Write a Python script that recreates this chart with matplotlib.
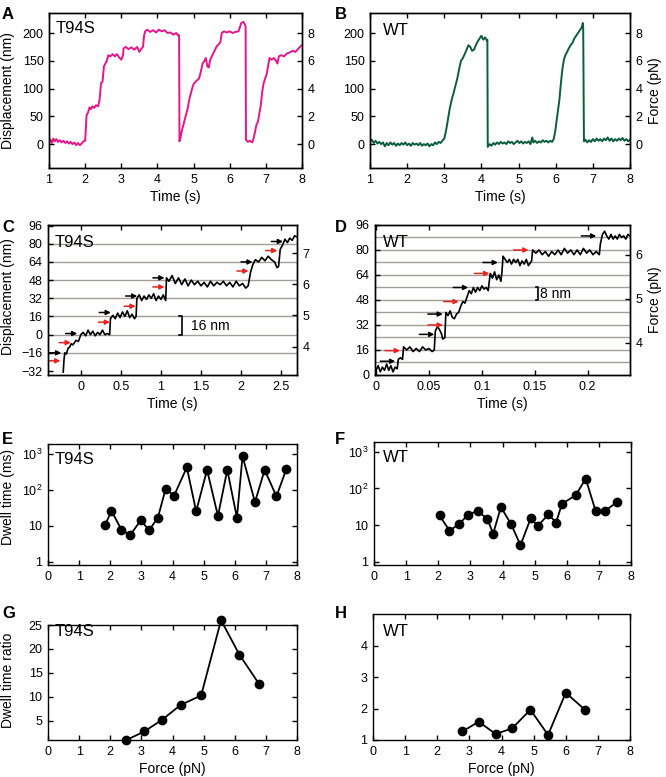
import matplotlib
matplotlib.use("Agg")
import matplotlib.pyplot as plt
from matplotlib.ticker import NullLocator

plt.rcParams['font.family'] = ['Liberation Sans', 'DejaVu Sans']
plt.rcParams['mathtext.default'] = 'regular'
plt.rcParams['axes.linewidth'] = 1.0

PINK = '#e5168b'
GREEN = '#0b5d3b'
GRID = '#a69d97'

# ---- panel A: T94S trace (time s, displacement nm)
trace_a_t = [1.00, 1.04, 1.08, 1.12, 1.16, 1.20, 1.25, 1.30, 1.35, 1.40, 1.45, 1.50, 1.55, 1.60,
             1.65, 1.70, 1.75, 1.80, 1.85, 1.90, 1.95, 2.00, 2.02, 2.04, 2.08, 2.12, 2.16, 2.20,
             2.25, 2.30, 2.36, 2.40, 2.44, 2.48, 2.52, 2.56, 2.60, 2.64, 2.70, 2.76, 2.82, 2.88,
             2.94, 3.00, 3.05, 3.06, 3.12, 3.20, 3.28, 3.36, 3.44, 3.50, 3.56, 3.60, 3.63, 3.66,
             3.72, 3.80, 3.88, 3.96, 4.04, 4.12, 4.20, 4.28, 4.36, 4.44, 4.52, 4.58, 4.60, 4.61,
             4.64, 4.68, 4.72, 4.76, 4.80, 4.84, 4.88, 4.92, 4.96, 5.00, 5.05, 5.10, 5.15, 5.20,
             5.25, 5.30, 5.34, 5.38, 5.42, 5.46, 5.52, 5.58, 5.64, 5.70, 5.74, 5.78, 5.84, 5.92,
             6.00, 6.08, 6.16, 6.24, 6.28, 6.32, 6.38, 6.42, 6.44, 6.45, 6.50, 6.56, 6.62, 6.66,
             6.70, 6.74, 6.78, 6.82, 6.86, 6.90, 6.94, 6.98, 7.02, 7.06, 7.10, 7.16, 7.22, 7.28,
             7.32, 7.36, 7.42, 7.50, 7.58, 7.66, 7.74, 7.82, 7.90, 7.96, 8.00]
trace_a_nm = [3, 8, 2, 10, 5, 9, 4, 7, 3, 6, 2, 5, 1, 4,
              0, 3, -2, 2, -2, 1, 5, 6, 30, 52, 57, 66, 63, 68,
              65, 70, 68, 80, 110, 112, 140, 145, 150, 160, 158, 162, 158, 162,
              156, 152, 160, 172, 175, 171, 174, 170, 175, 166, 172, 175, 195, 203,
              206, 202, 205, 201, 206, 203, 205, 200, 201, 197, 200, 195, 196, 5,
              12, 25, 35, 45, 55, 65, 80, 90, 100, 108, 112, 115, 118, 130,
              145, 150, 155, 140, 138, 152, 160, 168, 176, 180, 183, 200, 203, 201,
              203, 200, 202, 203, 210, 218, 220, 215, 212, 8, 4, 6, 3, 10,
              22, 35, 40, 55, 70, 95, 110, 118, 125, 140, 155, 152, 155, 150,
              145, 158, 160, 158, 163, 165, 168, 166, 172, 176, 178]

# ---- panel B: WT trace
trace_b_t = [1.00, 1.05, 1.10, 1.15, 1.20, 1.25, 1.30, 1.35, 1.40, 1.45, 1.50, 1.55, 1.60, 1.65,
             1.70, 1.75, 1.80, 1.85, 1.90, 1.95, 2.00, 2.05, 2.10, 2.15, 2.20, 2.25, 2.30, 2.35,
             2.40, 2.45, 2.50, 2.55, 2.60, 2.65, 2.70, 2.75, 2.80, 2.85, 2.90, 2.95, 3.00, 3.05,
             3.10, 3.15, 3.20, 3.25, 3.30, 3.35, 3.40, 3.45, 3.50, 3.55, 3.60, 3.65, 3.70, 3.75,
             3.80, 3.85, 3.90, 3.95, 4.00, 4.05, 4.10, 4.15, 4.16, 4.17, 4.22, 4.27, 4.32, 4.37,
             4.42, 4.47, 4.52, 4.57, 4.62, 4.67, 4.72, 4.77, 4.82, 4.87, 4.92, 4.97, 5.02, 5.07,
             5.12, 5.17, 5.22, 5.27, 5.32, 5.37, 5.40, 5.45, 5.50, 5.55, 5.60, 5.65, 5.70, 5.75,
             5.80, 5.85, 5.90, 5.94, 5.98, 6.02, 6.06, 6.10, 6.14, 6.18, 6.22, 6.26, 6.30, 6.35,
             6.40, 6.45, 6.50, 6.55, 6.60, 6.65, 6.70, 6.73, 6.74, 6.76, 6.80, 6.85, 6.90, 6.95,
             7.00, 7.05, 7.10, 7.15, 7.20, 7.25, 7.30, 7.35, 7.40, 7.45, 7.50, 7.55, 7.60, 7.65,
             7.70, 7.75, 7.80, 7.85, 7.90, 7.95, 8.00]
trace_b_nm = [5, 8, 2, 6, 1, 4, 0, 3, -4, 2, -2, 3, -1, 2,
              -3, 1, -2, 2, -1, 3, -2, 1, -3, 2, -1, 1, -2, 2,
              -3, 0, -2, 1, -4, 0, -2, 3, 0, 4, 2, 6, 10, 25,
              45, 65, 80, 92, 105, 118, 135, 150, 155, 162, 170, 178, 175, 168,
              170, 178, 185, 190, 195, 188, 192, 186, 188, -5, 0, -3, 2, -1,
              3, 0, 4, 1, 3, 0, 5, 2, 4, 0, 3, 6, 2, 5,
              1, 4, 2, 5, 0, 12, 3, 6, 2, 5, 3, 7, 4, 6,
              3, 6, 4, 8, 20, 40, 60, 80, 110, 135, 152, 160, 165, 172,
              178, 182, 190, 195, 200, 205, 210, 218, 210, 5, 8, 3, 7, 4,
              9, 5, 10, 6, 9, 5, 10, 7, 12, 6, 10, 5, 9, 6,
              10, 7, 11, 6, 9, 5, 8]

# ---- panel C: T94S stepping record
trace_c_t = [-0.22, -0.21, -0.20, -0.18, -0.16, -0.14, -0.12, -0.10, -0.06, -0.03, 0.00, 0.03,
             0.06, 0.09, 0.12, 0.15, 0.18, 0.21, 0.24, 0.27, 0.30, 0.33, 0.36, 0.37, 0.40, 0.43,
             0.46, 0.49, 0.52, 0.55, 0.58, 0.61, 0.64, 0.67, 0.69, 0.70, 0.73, 0.76, 0.79, 0.82,
             0.85, 0.88, 0.91, 0.94, 0.97, 1.00, 1.03, 1.06, 1.07, 1.10, 1.14, 1.18, 1.22, 1.26,
             1.30, 1.34, 1.38, 1.42, 1.46, 1.50, 1.54, 1.58, 1.62, 1.66, 1.70, 1.74, 1.78, 1.82,
             1.86, 1.90, 1.94, 1.98, 2.02, 2.06, 2.09, 2.12, 2.15, 2.18, 2.22, 2.26, 2.30, 2.34,
             2.38, 2.42, 2.45, 2.47, 2.49, 2.52, 2.55, 2.58, 2.61, 2.64, 2.67, 2.70]
trace_c_nm = [-33, -22, -16, -17, -12, -11, -8, -9, -5, -6, 0, 2,
              -1, 4, 0, 3, -1, 2, 0, 4, 0, 1, 0, 14, 17, 14,
              19, 15, 20, 16, 21, 15, 18, 14, 16, 32, 35, 30, 34, 31,
              35, 32, 36, 30, 34, 31, 35, 30, 50, 47, 52, 45, 50, 44,
              49, 43, 48, 44, 47, 43, 46, 42, 47, 43, 46, 44, 47, 43,
              46, 42, 47, 43, 45, 41, 43, 55, 62, 66, 64, 68, 65, 69,
              66, 64, 59, 60, 75, 79, 84, 81, 85, 83, 87, 86]
grid_c = [-16, 0, 16, 32, 48, 64, 80]
arrows_c_black = [(-0.39, -16), (-0.19, 1), (0.23, 19.5), (0.56, 34), (0.90, 50), (2.00, 64), (2.38, 82)]
arrows_c_red = [(-0.40, -23), (-0.27, -7), (0.22, 11), (0.54, 25), (0.90, 42), (1.95, 56), (2.31, 74)]

# ---- panel D: WT stepping record
trace_d_t = [0.000, 0.002, 0.004, 0.006, 0.008, 0.010, 0.012, 0.014, 0.016, 0.018, 0.020, 0.021,
             0.023, 0.025, 0.026, 0.029, 0.032, 0.035, 0.038, 0.041, 0.044, 0.047, 0.050, 0.053,
             0.055, 0.056, 0.058, 0.060, 0.062, 0.063, 0.065, 0.066, 0.068, 0.070, 0.072, 0.074,
             0.076, 0.078, 0.080, 0.082, 0.084, 0.086, 0.088, 0.090, 0.092, 0.094, 0.096, 0.098,
             0.100, 0.102, 0.104, 0.106, 0.107, 0.108, 0.110, 0.112, 0.114, 0.116, 0.118, 0.119,
             0.120, 0.122, 0.124, 0.126, 0.128, 0.130, 0.132, 0.134, 0.136, 0.138, 0.140, 0.142,
             0.144, 0.146, 0.147, 0.148, 0.151, 0.154, 0.157, 0.160, 0.163, 0.166, 0.169, 0.172,
             0.175, 0.178, 0.181, 0.184, 0.187, 0.190, 0.193, 0.196, 0.199, 0.202, 0.205, 0.208,
             0.211, 0.212, 0.214, 0.216, 0.218, 0.220, 0.222, 0.224, 0.226, 0.228, 0.230, 0.232,
             0.234, 0.236, 0.238, 0.240]
trace_d_nm = [3, 6, 2, 5, 3, 7, 3, 6, 2, 5, 4, 10,
              11, 10, 18, 16, 18, 15, 17, 15, 18, 16, 17, 15,
              16, 28, 31, 29, 26, 23, 24, 40, 38, 41, 37, 36,
              39, 40, 44, 47, 46, 50, 54, 52, 56, 53, 56, 54,
              57, 55, 56, 54, 60, 65, 62, 66, 61, 64, 60, 66,
              76, 74, 72, 74, 71, 74, 72, 74, 70, 73, 71, 74,
              70, 72, 73, 80, 78, 80, 77, 79, 76, 79, 77, 80,
              77, 81, 78, 80, 77, 80, 77, 81, 78, 80, 77, 79,
              77, 84, 90, 92, 89, 87, 90, 87, 89, 87, 90, 88,
              89, 87, 90, 89]
grid_d = [8, 16, 24, 32, 40, 48, 56, 64, 72, 80, 88]
arrows_d_black = [(0.004, 8.8), (0.041, 26), (0.049, 39), (0.073, 56), (0.101, 72), (0.194, 89)]
arrows_d_red = [(0.0085, 15.6), (0.049, 32), (0.064, 47), (0.093, 65), (0.130, 80)]

# ---- panels E, F: dwell time vs force
dwell_e_force = [1.84, 2.04, 2.36, 2.64, 2.98, 3.25, 3.53, 3.78, 4.05, 4.46,
                 4.76, 5.11, 5.46, 5.76, 6.07, 6.25, 6.65, 6.96, 7.34, 7.66]
dwell_e_ms = [10.7, 25.7, 7.7, 5.5, 14, 7.5, 16.7, 105, 68, 415,
              25, 354, 18.6, 354, 16.7, 850, 45, 354, 65, 377]
dwell_f_force = [2.04, 2.35, 2.66, 2.92, 3.23, 3.53, 3.71, 3.95, 4.27, 4.56,
                 4.88, 5.09, 5.43, 5.67, 5.85, 6.28, 6.59, 6.90, 7.18, 7.56]
dwell_f_ms = [18.3, 7.0, 10.8, 19, 24.5, 14.5, 5.8, 31, 10.5, 2.8,
              15.5, 9.3, 19.6, 11.7, 38, 65, 185, 24, 24, 42]

# ---- panels G, H: dwell time ratio vs force
ratio_g_force = [2.52, 3.10, 3.66, 4.26, 4.92, 5.56, 6.15, 6.78]
ratio_g = [1.0, 2.8, 5.2, 8.3, 10.3, 26.0, 18.8, 12.7]
ratio_h_force = [2.78, 3.29, 3.82, 4.33, 4.90, 5.45, 6.00, 6.61]
ratio_h = [1.27, 1.58, 1.19, 1.37, 1.96, 1.16, 2.50, 1.95]

W, H = 666, 777
fig = plt.figure(figsize=(W / 100, H / 100), dpi=100)


def panel(left, top, right, bottom):
    return fig.add_axes([left / W, 1 - bottom / H, (right - left) / W, (bottom - top) / H])


def style(ax, right=True):
    ax.tick_params(direction='in', length=3.5, width=1, top=True, right=right, labelsize=9, pad=4)


def tag(ax, text, x, y):
    ax.text(x, y, text, transform=ax.transAxes, fontsize=12, va='center', ha='left')


def letter(x, y, s):
    fig.text(x / W, 1 - y / H, s, fontsize=12, weight='bold', va='top', ha='left')


def arrow(ax, t, y, length, color):
    ax.annotate('', xy=(t + length, y), xytext=(t, y),
                arrowprops=dict(arrowstyle='-|>', color=color, lw=1.1, mutation_scale=7,
                                shrinkA=0, shrinkB=0))


# A
axA = panel(49, 13, 302, 168)
axA.plot(trace_a_t, trace_a_nm, color=PINK, lw=1.4)
axA.set_xlim(1, 8)
axA.set_ylim(-43, 236)
axA.set_xticks(range(1, 9))
axA.set_yticks([0, 50, 100, 150, 200])
style(axA, right=False)
axA.set_xlabel('Time (s)', fontsize=10, labelpad=3)
tag(axA, 'T94S', 0.025, 0.9)
tA = axA.twinx()
tA.set_ylim(-43 / 25, 236 / 25)
tA.set_yticks([0, 2, 4, 6, 8])
tA.tick_params(direction='in', length=3.5, width=1, labelsize=9, pad=4)

# B
axB = panel(370, 13, 630, 168)
axB.plot(trace_b_t, trace_b_nm, color=GREEN, lw=1.4)
axB.set_xlim(1, 8)
axB.set_ylim(-43, 236)
axB.set_xticks(range(1, 9))
axB.set_yticks([0, 50, 100, 150, 200])
style(axB, right=False)
axB.set_xlabel('Time (s)', fontsize=10, labelpad=3)
tag(axB, 'WT', 0.05, 0.89)
tB = axB.twinx()
tB.set_ylim(-43 / 25, 236 / 25)
tB.set_yticks([0, 2, 4, 6, 8])
tB.tick_params(direction='in', length=3.5, width=1, labelsize=9, pad=4)
tB.set_ylabel('Force (pN)', fontsize=10, labelpad=4)

# C
axC = panel(48, 225, 297, 375)
for g in grid_c:
    axC.axhline(g, color=GRID, lw=1.0, zorder=1)
axC.plot(trace_c_t, trace_c_nm, color='black', lw=1.2, zorder=3)
for t, y in arrows_c_black:
    arrow(axC, t, y, 0.145, 'black')
for t, y in arrows_c_red:
    arrow(axC, t, y, 0.145, '#e8231e')
axC.plot([1.225, 1.26, 1.26, 1.225], [0, 0, 16, 16], color='black', lw=1.2)
axC.text(1.38, 8, '16 nm', fontsize=10, va='center')
axC.set_xlim(-0.41, 2.7)
axC.set_ylim(-35.5, 96.5)
axC.set_xticks([0, 0.5, 1, 1.5, 2, 2.5])
axC.set_xticklabels(['0', '0.5', '1', '1.5', '2', '2.5'])
axC.set_yticks([-32, -16, 0, 16, 32, 48, 64, 80, 96])
style(axC, right=False)
axC.set_xlabel('Time (s)', fontsize=10, labelpad=3)
tag(axC, 'T94S', 0.028, 0.883)
tC = axC.twinx()
tC.set_ylim(3.087, 7.906)
tC.set_yticks([4, 5, 6, 7])
tC.tick_params(direction='in', length=3.5, width=1, labelsize=9, pad=4)

# D
axD = panel(375, 225, 630, 375)
for g in grid_d:
    axD.axhline(g, color=GRID, lw=1.0, zorder=1)
axD.plot(trace_d_t, trace_d_nm, color='black', lw=1.2, zorder=3)
for t, y in arrows_d_black:
    arrow(axD, t, y, 0.0141, 'black')
for t, y in arrows_d_red:
    arrow(axD, t, y, 0.0141, '#e8231e')
axD.plot([0.151, 0.1535, 0.1535, 0.151], [48, 48, 56, 56], color='black', lw=1.2)
axD.text(0.1545, 52, '8 nm', fontsize=10, va='center')
axD.set_xlim(-0.001, 0.24)
axD.set_ylim(0, 96)
axD.set_xticks([0, 0.05, 0.1, 0.15, 0.2])
axD.set_xticklabels(['0', '0.05', '0.1', '0.15', '0.2'])
axD.set_yticks([0, 16, 32, 48, 64, 80, 96])
style(axD, right=False)
axD.set_xlabel('Time (s)', fontsize=10, labelpad=3)
tag(axD, 'WT', 0.03, 0.883)
tD = axD.twinx()
tD.set_ylim(3.27, 6.68)
tD.set_yticks([4, 5, 6])
tD.tick_params(direction='in', length=3.5, width=1, labelsize=9, pad=4)
tD.set_ylabel('Force (pN)', fontsize=10, labelpad=4)

# E, F
for box, xs, ys, name, tx, ty in [((48, 444, 297, 565), dwell_e_force, dwell_e_ms, 'T94S', 0.028, 0.872),
                                  ((374, 442, 631, 565), dwell_f_force, dwell_f_ms, 'WT', 0.035, 0.874)]:
    ax = panel(*box)
    ax.plot(xs, ys, '-o', color='black', lw=1.3, ms=6, clip_on=False)
    ax.set_yscale('log')
    ax.set_xlim(0, 8)
    ax.set_ylim(0.81, 1850)
    ax.set_xticks(range(0, 9))
    ax.set_yticks([1, 10, 100, 1000])
    ax.set_yticklabels(['1', '10', '$10^2$', '$10^3$'])
    ax.yaxis.set_minor_locator(NullLocator())
    style(ax)
    tag(ax, name, tx, ty)
    if name == 'T94S':
        fig.text(8 / W, 1 - 497 / H, 'Dwell time (ms)', rotation=90, fontsize=10,
                 ha='center', va='center')

# G
axG = panel(48, 625, 297, 740)
axG.plot(ratio_g_force, ratio_g, '-o', color='black', lw=1.3, ms=6, clip_on=False)
axG.set_xlim(0, 8)
axG.set_ylim(1, 25)
axG.set_xticks(range(0, 9))
axG.set_yticks([5, 10, 15, 20, 25])
style(axG)
axG.set_xlabel('Force (pN)', fontsize=10, labelpad=3)
tag(axG, 'T94S', 0.028, 0.94)

# H
axH = panel(373, 614, 630, 740)
axH.plot(ratio_h_force, ratio_h, '-o', color='black', lw=1.3, ms=6, clip_on=False)
axH.set_xlim(0, 8)
axH.set_ylim(1, 5)
axH.set_xticks(range(0, 9))
axH.set_yticks([1, 2, 3, 4])
style(axH)
axH.set_xlabel('Force (pN)', fontsize=10, labelpad=3)
tag(axH, 'WT', 0.04, 0.865)

fig.text(8 / W, 1 - 91 / H, 'Displacement (nm)', rotation=90, fontsize=10, ha='center', va='center')
fig.text(8 / W, 1 - 297 / H, 'Displacement (nm)', rotation=90, fontsize=10, ha='center', va='center')
fig.text(8 / W, 1 - 680 / H, 'Dwell time ratio', rotation=90, fontsize=10, ha='center', va='center')

letter(2, 7, 'A')
letter(335, 7, 'B')
letter(2, 220, 'C')
letter(335, 220, 'D')
letter(2, 432, 'E')
letter(335, 432, 'F')
letter(2, 606, 'G')
letter(335, 606, 'H')

fig.savefig('out.png', dpi=100)
